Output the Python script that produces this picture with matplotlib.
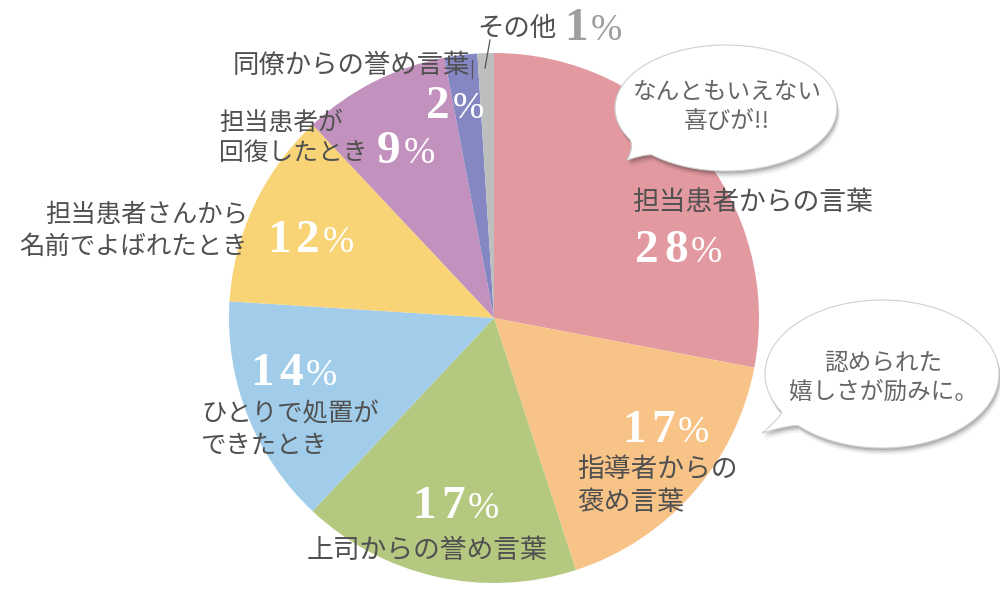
import numpy as np
import matplotlib
matplotlib.use("Agg")
import matplotlib.pyplot as plt
from matplotlib.patches import Polygon

plt.rcParams["font.family"] = ["Noto Sans CJK JP", "DejaVu Sans"]

# データ
labels = ["担当患者からの言葉", "指導者からの\n褒め言葉", "上司からの誉め言葉",
          "ひとりで処置が\nできたとき", "担当患者さんから\n名前でよばれたとき",
          "担当患者が\n回復したとき", "同僚からの誉め言葉", "その他"]
values = [28, 17, 17, 14, 12, 9, 2, 1]
colors = ["#E29AA0", "#F8C387", "#B5C880", "#A1CDEB", "#F8D477",
          "#C291BE", "#8587C3", "#BDBFBF"]
bubble_texts = ["なんともいえない\n喜びが!!", "認められた\n嬉しさが励みに。"]

TXT = "#505050"
CX, CY, R = 494, 318, 265

fig = plt.figure(figsize=(10, 5.9), dpi=100)
ax = fig.add_axes([0, 0, 1, 1])
# y軸反転なので counterclock=True で見た目は時計回り
ax.pie(values, colors=colors, startangle=-90, counterclock=True,
       center=(CX, CY), radius=R, wedgeprops=dict(linewidth=0))
ax.set_xlim(0, 1000)
ax.set_ylim(590, 0)
ax.set_aspect("equal")
ax.axis("off")

# ── ラベル（文字）── かな多めのラベルは少し小さく
lab_pos = [(632, 203, "left", 19.3), (577, 486, "left", 19.3),
           (307, 550, "left", 19.3), (201, 430, "left", 18.3),
           (248, 231, "right", 18.3), (219, 138, "left", 17.8),
           (233, 65, "left", 19), (477, 28, "left", 19)]
for lab, (x, y, ha, fs) in zip(labels, lab_pos):
    ax.text(x, y, lab, ha=ha, va="center", multialignment=ha,
            fontsize=fs, color=TXT, linespacing=1.25, zorder=5)

# ── パーセント（セリフ体、字間広め）──
num_pos = [(690, 262), (677, 442), (467, 518), (305, 385), (322, 252),
           (403, 163), (452, 118), (590, 40)]
PITCH = 28.5
for i, (v, (x, y)) in enumerate(zip(values, num_pos)):
    c = "#9E9E9E" if i == len(values) - 1 else "white"
    s = str(v)
    for k, ch in enumerate(s):
        ax.text(x - PITCH * (len(s) - k - 0.5), y, ch, ha="center",
                va="baseline", fontsize=34, fontweight="bold",
                family="Liberation Serif", color=c, zorder=5)
    ax.text(x + 1, y, "%", ha="left", va="baseline", fontsize=27,
            family="Liberation Serif", color=c, zorder=5)

# 引き出し線
ax.plot([490, 485], [40, 68], color="#555555", lw=0.9, zorder=5)
ax.plot([472, 472], [60, 78], color="#555555", lw=0.9, zorder=5)


# ── 吹き出し ──
def bubble_pts(cx, cy, a, b, t1, t2, tip):
    # t1 < t2 : しっぽの付け根の角度（度）
    ts = np.radians(np.linspace(t2, t1 + 360, 200))
    ell = np.column_stack([cx + a * np.cos(ts), cy + b * np.sin(ts)])
    p1, p2 = ell[-1], ell[0]
    tip = np.array(tip)
    s = np.linspace(0, 1, 15)[:, None]
    mid1 = (p1 + tip) / 2 + (np.array([cx, cy]) - (p1 + tip) / 2) * 0.06
    mid2 = (p2 + tip) / 2 + (np.array([cx, cy]) - (p2 + tip) / 2) * 0.06
    c1 = (1 - s) ** 2 * p1 + 2 * (1 - s) * s * mid1 + s ** 2 * tip
    c2 = (1 - s) ** 2 * tip + 2 * (1 - s) * s * mid2 + s ** 2 * p2
    return np.vstack([ell, c1, c2])


bubbles = [(726, 108, 111, 63, 132, 150, (627, 160), (727, 107)),
           (882, 374, 117, 74, 136, 149, (762, 433), (883, 378))]
for (cx, cy, a, b, t1, t2, tip, tc), txt in zip(bubbles, bubble_texts):
    pts = bubble_pts(cx, cy, a, b, t1, t2, tip)
    for k, al in [(7, 0.05), (5, 0.07), (3.5, 0.1), (2, 0.12)]:
        ax.add_patch(Polygon(pts + [k * 0.4, k], closed=True, fc="#000000",
                             ec="none", alpha=al, zorder=6))
    ax.add_patch(Polygon(pts, closed=True, fc="white", ec="#D0D0D0",
                         lw=0.8, zorder=7))
    ax.text(tc[0], tc[1], txt, ha="center", va="center", fontsize=17,
            color="#666666", linespacing=1.35, zorder=8)

fig.savefig("out.png", dpi=100)
